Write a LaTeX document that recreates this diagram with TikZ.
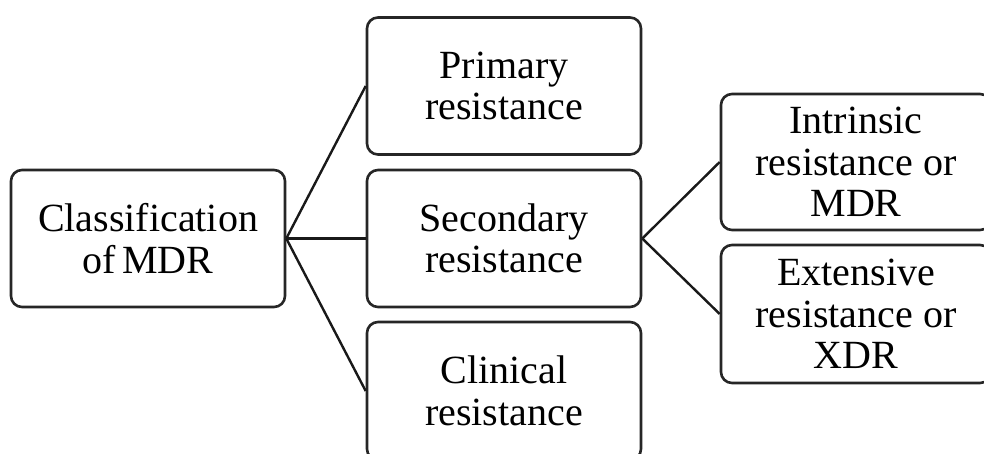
\documentclass[tikz,border=0pt]{standalone}
\usepackage{fontspec}
\setmainfont{Liberation Serif}
\begin{document}
\begin{tikzpicture}[x=1pt,y=-1pt,
  box/.style={draw=black!85, line width=2.6pt, rounded corners=11pt, rectangle,
    inner sep=0pt, align=center, font=\fontsize{40}{41.5}\selectfont,
    minimum width=274pt, minimum height=137pt},
  link/.style={draw=black!90, line width=2.4pt}]
\useasboundingbox (0,0) rectangle (984,453);
\clip (0,0) rectangle (984,453);
\fill[white] (0,0) rectangle (984,453);
\node[box] (cls) at (148,238.5) {Classification\\of\,MDR};
\node[box] (pri) at (504,86) {Primary\\resistance};
\node[box] (sec) at (504,238.5) {Secondary\\resistance};
\node[box, minimum height=138pt] (cli) at (504,391) {Clinical\\resistance};
\node[box, minimum width=270pt, minimum height=136pt] (int) at (856,162) {Intrinsic\\resistance or\\MDR};
\node[box, minimum width=270pt, minimum height=138pt] (ext) at (856,314) {Extensive\\resistance or\\XDR};
\draw[link] (cls.east) -- (pri.west);
\draw[link] (cls.east) -- (sec.west);
\draw[link] (cls.east) -- (cli.west);
\draw[link] (sec.east) -- (int.west);
\draw[link] (sec.east) -- (ext.west);
\end{tikzpicture}
\end{document}
